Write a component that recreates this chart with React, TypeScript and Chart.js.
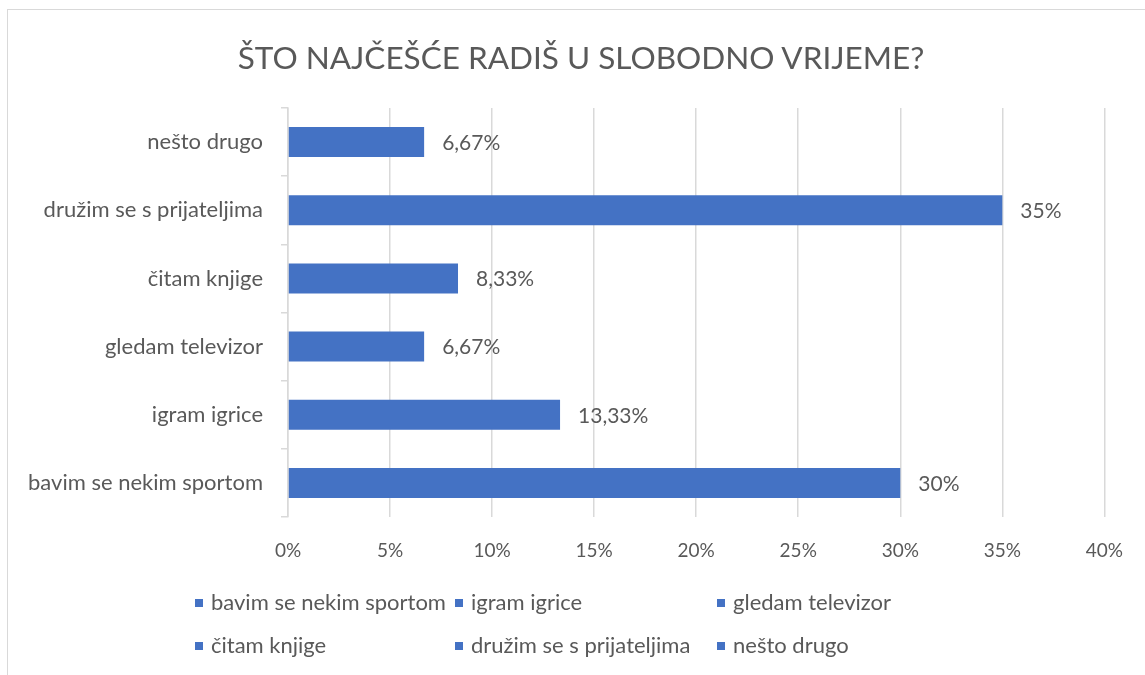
import React, { useEffect, useRef } from "react";
import { Chart, registerables } from "chart.js";

Chart.register(...registerables);

const TITLE = "ŠTO NAJČEŠĆE RADIŠ U SLOBODNO VRIJEME?";
const categories = [
  "bavim se nekim sportom",
  "igram igrice",
  "gledam televizor",
  "čitam knjige",
  "družim se s prijateljima",
  "nešto drugo",
];
const values = [30, 13.33, 6.67, 8.33, 35, 6.67];
const xTicksMax = 40;
const xTickStep = 5;

const BAR_COLOR = "#4472C4";
const TEXT_COLOR = "#595959";
const GRID_COLOR = "#D9D9D9";
const FONT = "Lato, 'Open Sans', sans-serif";

const fmt = (v: number) => String(v).replace(".", ",") + "%";

const dataLabelPlugin = {
  id: "dataLabels",
  afterDatasetsDraw(chart: any) {
    const ctx = chart.ctx;
    const meta = chart.getDatasetMeta(0);
    ctx.save();
    ctx.font = `21px ${FONT}`;
    ctx.fillStyle = TEXT_COLOR;
    ctx.textAlign = "left";
    ctx.textBaseline = "middle";
    meta.data.forEach((el: any, i: number) => {
      ctx.fillText(fmt(values[i]), el.x + 18, el.y + 1);
    });
    ctx.restore();
  },
};

export default function App() {
  const ref = useRef<HTMLCanvasElement>(null);
  useEffect(() => {
    document.body.style.margin = "0";
    const chart = new Chart(ref.current!, {
      type: "bar",
      data: {
        labels: categories,
        datasets: [
          {
            data: values,
            backgroundColor: BAR_COLOR,
            barPercentage: 0.44,
            categoryPercentage: 1,
          },
        ],
      },
      plugins: [dataLabelPlugin],
      options: {
        indexAxis: "y",
        animation: false,
        responsive: false,
        layout: { padding: { left: 0, right: 35, top: 108, bottom: 98 } },
        plugins: {
          legend: { display: false },
          tooltip: { enabled: false },
          title: { display: false },
        },
        scales: {
          x: {
            min: 0,
            max: xTicksMax,
            ticks: {
              stepSize: xTickStep,
              color: TEXT_COLOR,
              font: { family: FONT, size: 19 },
              padding: 22,
              callback: (v: any) => v + "%",
            },
            grid: { color: GRID_COLOR, lineWidth: 1.5, drawTicks: false },
            border: { display: false },
            afterFit: (s: any) => {
              s.height = 60;
            },
          },
          y: {
            reverse: true,
            ticks: {
              color: TEXT_COLOR,
              font: { family: FONT, size: 22 },
              padding: 18,
            },
            grid: {
              drawOnChartArea: false,
              drawTicks: true,
              tickLength: 7,
              color: GRID_COLOR,
              lineWidth: 1.5,
            },
            border: { display: true, color: GRID_COLOR, width: 1.5 },
            afterFit: (s: any) => {
              s.width = 288;
            },
          },
        },
      },
    });
    return () => chart.destroy();
  }, []);

  const legendItem = (label: string) => (
    <div key={label} style={{ display: "flex", alignItems: "center", whiteSpace: "nowrap" }}>
      <span
        style={{
          display: "inline-block",
          flexShrink: 0,
          width: 8,
          height: 8,
          background: BAR_COLOR,
          marginRight: 8,
          marginTop: 2,
        }}
      />
      <span>{label}</span>
    </div>
  );

  return (
    <div style={{ position: "relative", width: 1145, height: 675, overflow: "hidden", background: "#fff" }}>
      <div
        style={{
          position: "absolute",
          left: 7,
          top: 9,
          width: 1200,
          height: 700,
          borderLeft: `1.5px solid ${GRID_COLOR}`,
          borderTop: `1.5px solid ${GRID_COLOR}`,
        }}
      />
      <canvas ref={ref} width={1145} height={675} style={{ position: "absolute", left: 0, top: 0 }} />
      <div
        style={{
          position: "absolute",
          left: 0,
          top: 38,
          width: 1162,
          textAlign: "center",
          fontFamily: FONT,
          fontSize: 31.5,
          lineHeight: "38px",
          color: TEXT_COLOR,
          whiteSpace: "nowrap",
        }}
      >
        {TITLE}
      </div>
      <div
        style={{
          position: "absolute",
          left: 195,
          top: 590,
          display: "grid",
          gridTemplateColumns: "260px 262px auto",
          rowGap: 19,
          fontFamily: FONT,
          fontSize: 22,
          color: TEXT_COLOR,
          lineHeight: "24px",
        }}
      >
        {categories.map(legendItem)}
      </div>
    </div>
  );
}
